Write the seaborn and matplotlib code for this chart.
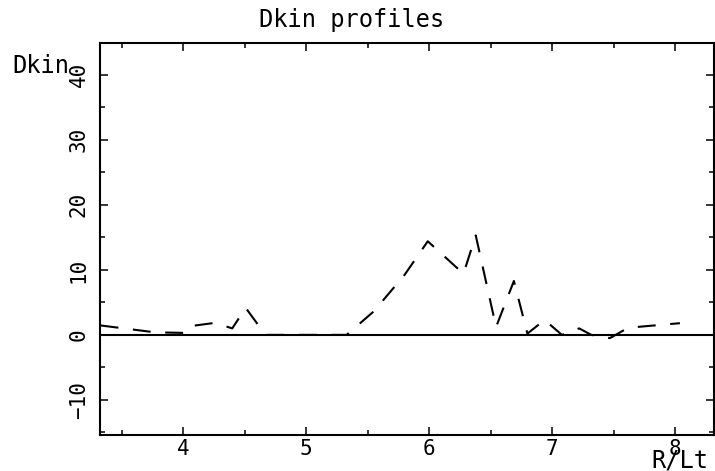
import matplotlib
matplotlib.use('Agg')
import matplotlib.pyplot as plt
from matplotlib.ticker import MultipleLocator
import seaborn as sns

# values
r_lt = [3.33, 3.77, 4.02, 4.08, 4.26, 4.40, 4.51, 4.67, 4.90, 5.10, 5.33, 5.55, 5.80,
        5.99, 6.28, 6.38, 6.545, 6.69, 6.80, 6.94, 7.08, 7.22, 7.32, 7.47, 7.62, 8.04]
dkin = [1.45, 0.4, 0.3, 1.4, 1.85, 1.0, 4.15, 0.0, 0.0, 0.0, 0.0, 3.6, 9.2,
        14.4, 9.4, 15.3, 1.2, 8.3, 0.2, 2.3, 0.0, 1.0, 0.0, -0.5, 1.1, 1.8]
x_ticks = [4, 5, 6, 7, 8]
y_ticks = [-10, 0, 10, 20, 30, 40]

sns.set_style('ticks')
plt.rcParams['font.family'] = ['DejaVu Sans Mono', 'DejaVu Sans']
plt.rcParams['text.color'] = 'black'

W, H = 715, 471
fig = plt.figure(figsize=(W / 100, H / 100), dpi=100)
ax = fig.add_axes([100 / W, 1 - 435 / H, 614 / W, 392 / H])

sns.lineplot(x=r_lt, y=dkin, ax=ax, color='black', lw=1.5, estimator=None,
             linestyle=(0, (8.6, 7.0)))
ax.axhline(0, color='black', lw=1.5)

ax.set_xlim(3.325, 8.317)
ax.set_ylim(-15.4, 44.9)
ax.set_xticks(x_ticks)
ax.set_yticks(y_ticks)
ax.xaxis.set_minor_locator(MultipleLocator(0.5))
ax.yaxis.set_minor_locator(MultipleLocator(5))
ax.tick_params(which='both', direction='in', top=True, right=True, width=1.1,
               color='black', labelsize=15, labelcolor='black')
ax.tick_params(which='major', length=6)
ax.tick_params(which='minor', length=3.6)
ax.tick_params(axis='x', pad=3)
ax.tick_params(axis='y', pad=8, labelrotation=90)
for lab in ax.get_yticklabels():
    lab.set_va('center')
for s in ax.spines.values():
    s.set_linewidth(1.5)
    s.set_color('black')
ax.set_xlabel('')
ax.set_ylabel('')

fig.text(352 / W, 1 - 27 / H, 'Dkin profiles', ha='center', va='baseline', fontsize=17)
fig.text(12 / W, 1 - 73 / H, 'Dkin', ha='left', va='baseline', fontsize=17)
fig.text(651 / W, 1 - 467 / H, 'R/Lt', ha='left', va='baseline', fontsize=17)

fig.savefig('out.png', dpi=100, facecolor='white')
